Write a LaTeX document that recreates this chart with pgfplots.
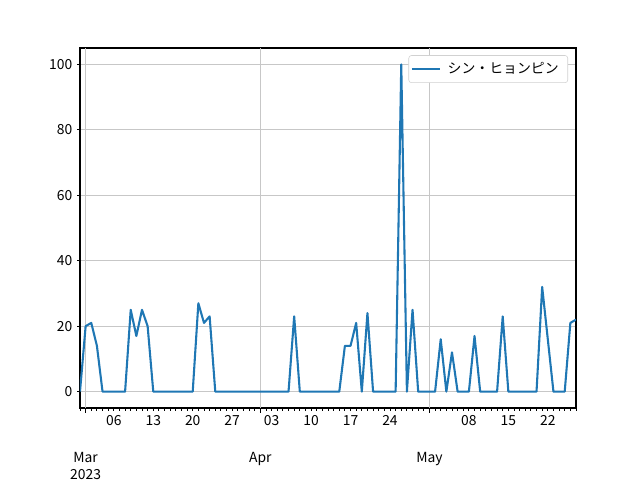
\documentclass[border=0pt]{standalone}
\usepackage{pgfplots}
\pgfplotsset{compat=1.18}
\usepackage{pgfplotstable}
\usepackage{fontspec}
\setmainfont{Noto Sans CJK JP}
\definecolor{c0}{HTML}{1F77B4}
\pgfplotstableread{
d v
-1 0
0 20
1 21
2 14
3 0
4 0
5 0
6 0
7 0
8 25
9 17
10 25
11 20
12 0
13 0
14 0
15 0
16 0
17 0
18 0
19 0
20 27
21 21
22 23
23 0
24 0
25 0
26 0
27 0
28 0
29 0
30 0
31 0
32 0
33 0
34 0
35 0
36 0
37 23
38 0
39 0
40 0
41 0
42 0
43 0
44 0
45 0
46 14
47 14
48 21
49 0
50 24
51 0
52 0
53 0
54 0
55 0
56 100
57 0
58 25
59 0
60 0
61 0
62 0
63 16
64 0
65 12
66 0
67 0
68 0
69 17
70 0
71 0
72 0
73 0
74 23
75 0
76 0
77 0
78 0
79 0
80 0
81 32
82 16
83 0
84 0
85 0
86 21
87 22
}\datatable
\begin{document}
\begin{tikzpicture}
\begin{axis}[
  scale only axis,
  width=357.12pt, height=259.2pt,
  xmin=-1, xmax=87, ymin=-5, ymax=105,
  font=\fontsize{10}{12}\selectfont,
  /pgf/number format/assume math mode=true,
  ytick={0,20,40,60,80,100},
  xtick={5,12,19,26,33,40,47,54,68,75,82},
  xticklabels={06,13,20,27,03,10,17,24,08,15,22},
  minor xtick={-1,0,...,87},
  extra x ticks={0,31,61},
  extra x tick labels={Mar\\2023,Apr,May},
  extra x tick style={
    major tick length=3.5pt,
    xmajorgrids=true,
    xticklabel style={align=center, yshift=-25pt},
  },
  xmajorgrids=false, ymajorgrids=true,
  grid style={color=black!22, line width=0.7pt},
  major tick length=2pt, minor tick length=2pt,
  tick style={black, line width=0.6pt},
  tick align=outside,
  xtick pos=bottom, ytick pos=left,
  axis line style={line width=0.8pt},
  legend image code/.code={\draw[#1] (0pt,0pt) -- (20pt,0pt);},
  legend style={at={(0.984,0.98)}, anchor=north east, draw=black!18, rounded corners=2pt, font=\fontsize{10}{12}\selectfont, inner xsep=1.5pt, inner ysep=3pt, row sep=0pt, nodes={inner xsep=5pt}},
  legend cell align=left,
]
\addplot[c0, line width=1.5pt, line join=round] table[x=d, y=v] {\datatable};
\addlegendentry{シン・ヒョンピン}
\end{axis}
\pgfresetboundingbox
\path (-57.6pt,-51.84pt) rectangle (403.2pt,293.76pt);
\end{tikzpicture}
\end{document}
